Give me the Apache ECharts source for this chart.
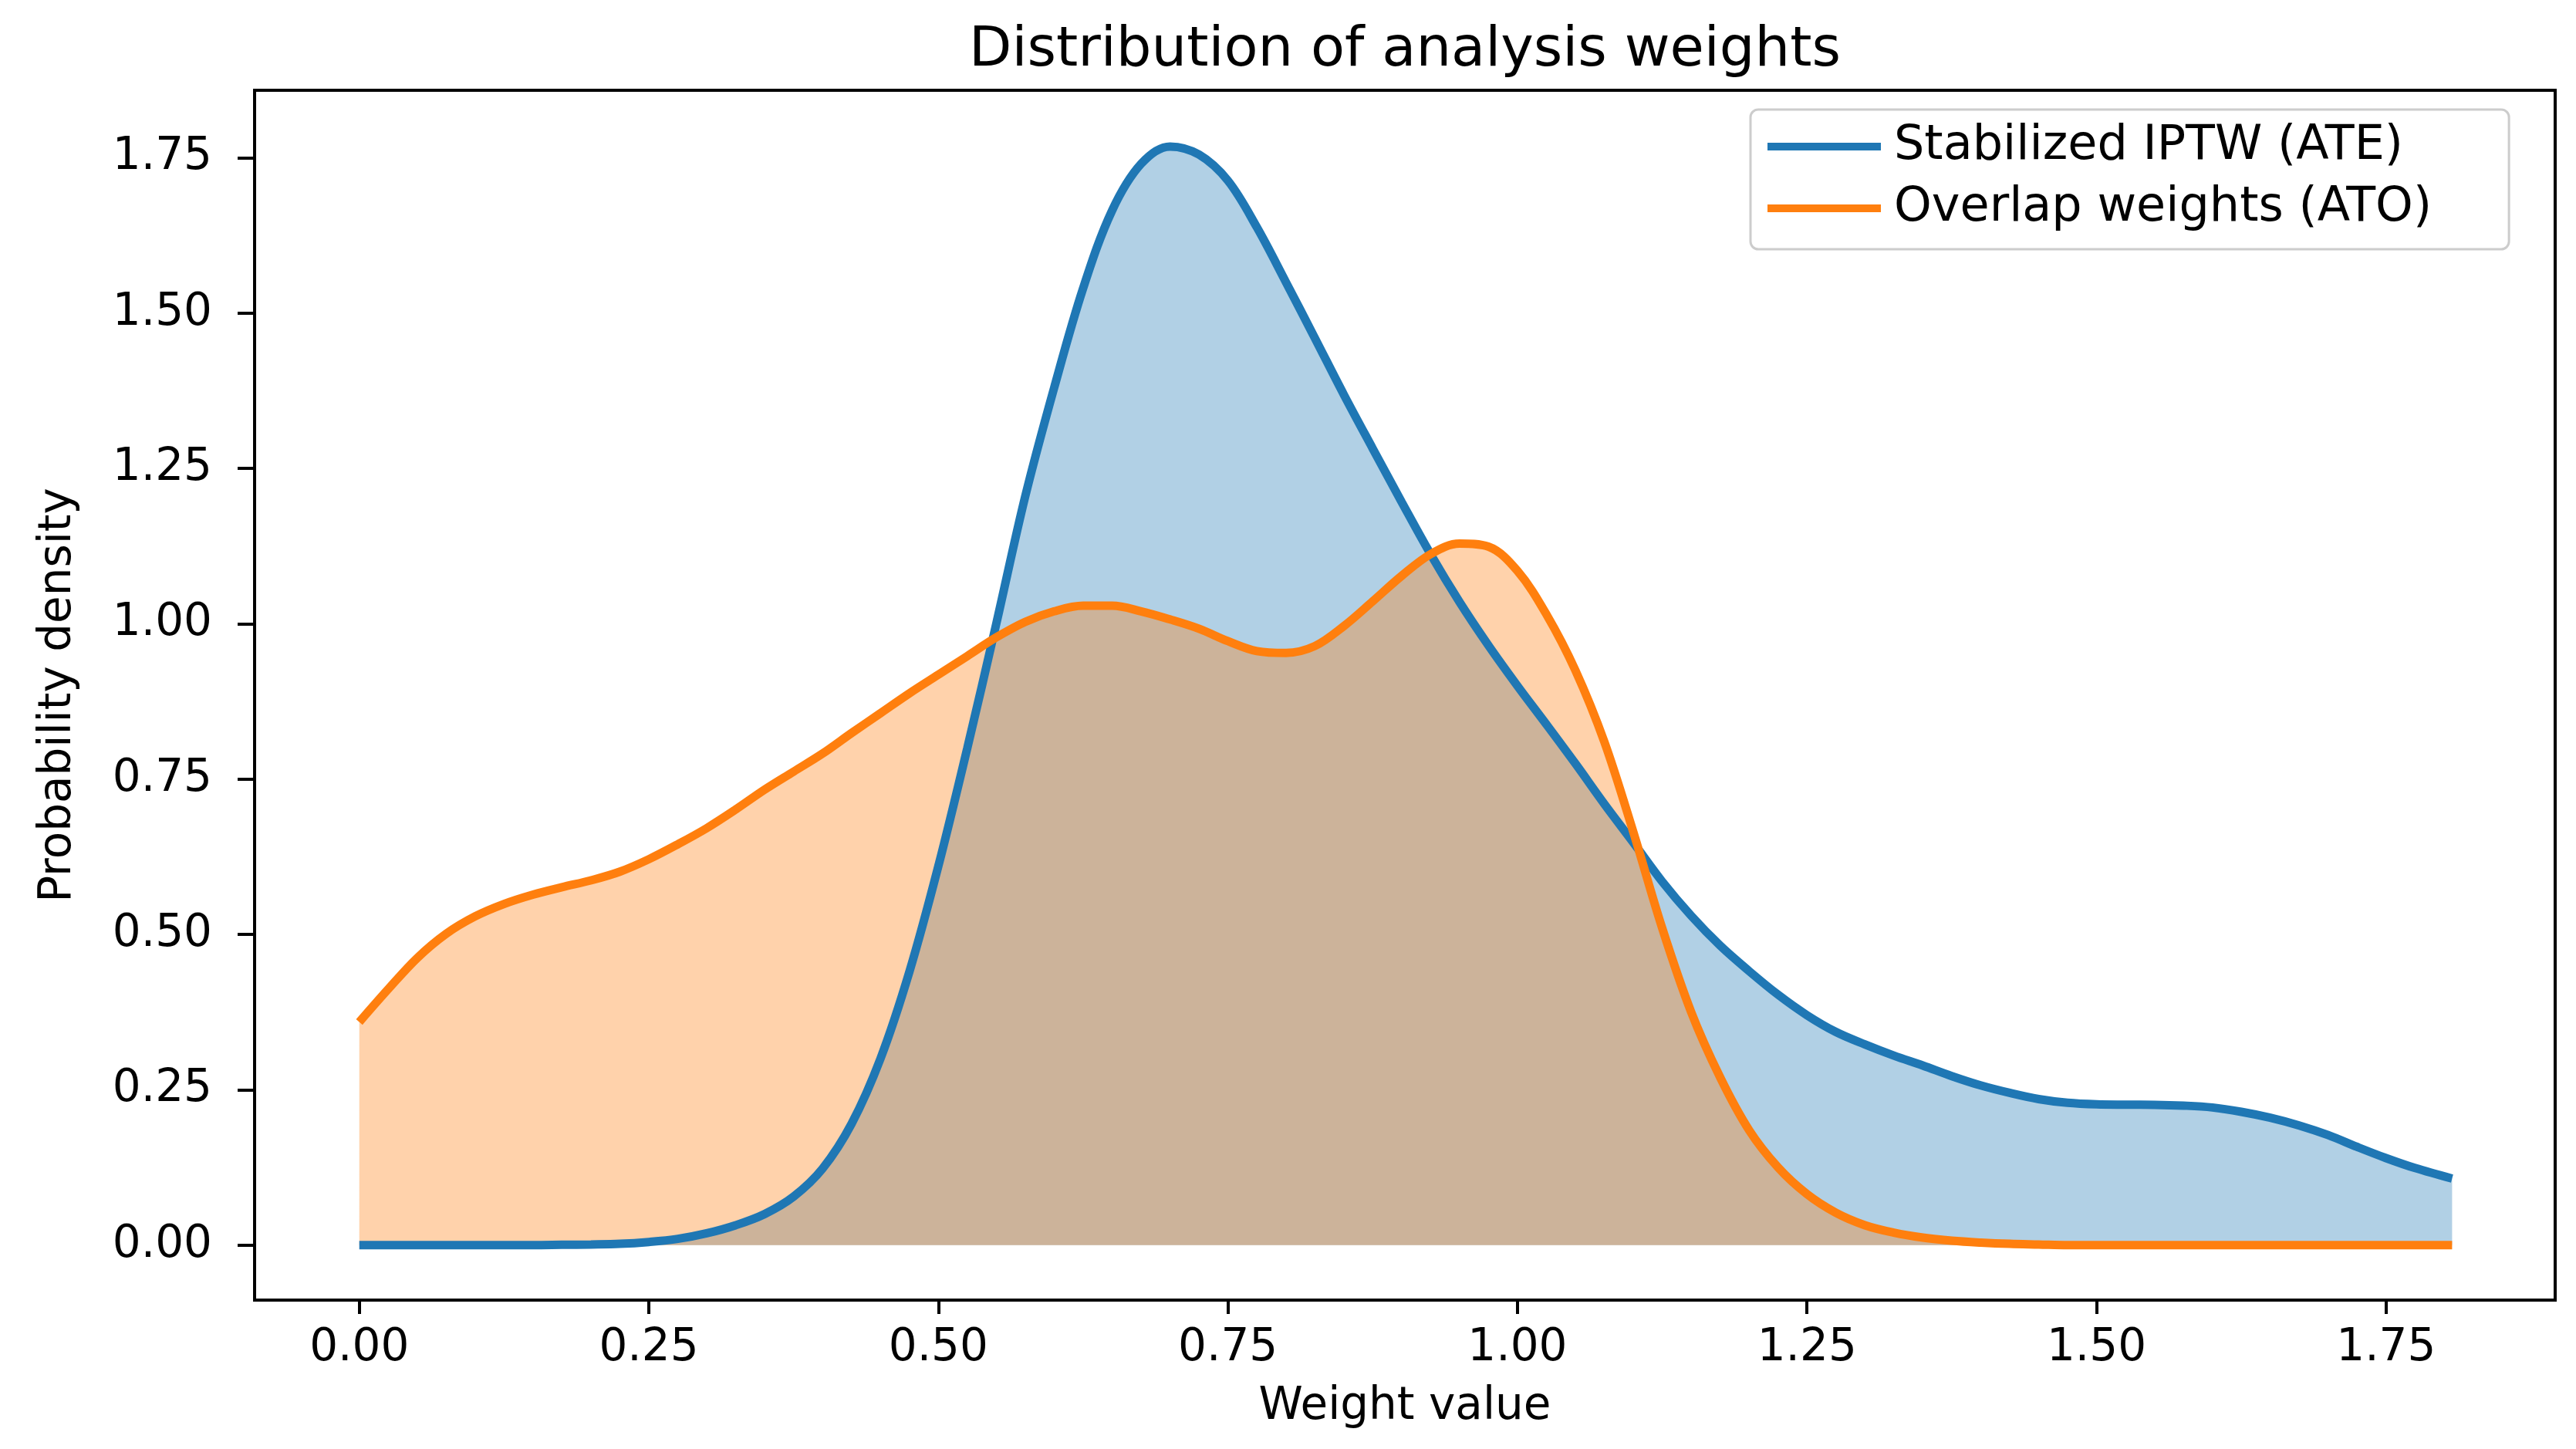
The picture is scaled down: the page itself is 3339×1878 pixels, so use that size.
<!DOCTYPE html>
<html lang="en">
<head>
<meta charset="UTF-8" />
<title>Distribution of analysis weights</title>
<script src="https://cdn.jsdelivr.net/npm/echarts@6.0.0/dist/echarts.min.js"></script>
<style>
  html, body { margin: 0; padding: 0; background: #fff; }
  #chart { width: 3339px; height: 1878px; }
</style>
</head>
<body>
<div id="chart"></div>
<script>
var weightGrid = [0, 0.025, 0.05, 0.075, 0.1, 0.125, 0.15, 0.175, 0.2, 0.225, 0.25, 0.275,
  0.3, 0.325, 0.35, 0.375, 0.4, 0.425, 0.45, 0.475, 0.5, 0.525, 0.55, 0.575,
  0.6, 0.625, 0.65, 0.675, 0.7, 0.725, 0.75, 0.775, 0.8, 0.825, 0.85, 0.875,
  0.9, 0.925, 0.95, 0.975, 1.0, 1.025, 1.05, 1.075, 1.1, 1.125, 1.15, 1.175,
  1.2, 1.225, 1.25, 1.275, 1.3, 1.325, 1.35, 1.375, 1.4, 1.425, 1.45, 1.475,
  1.5, 1.525, 1.55, 1.575, 1.6, 1.625, 1.65, 1.675, 1.7, 1.725, 1.75, 1.775, 1.807];

// Stabilized IPTW (ATE) density
var iptwDensity = [0, 0, 0, 0, 0, 0, 0, 0.0005, 0.001, 0.002, 0.005, 0.01,
  0.019, 0.032, 0.05, 0.078, 0.123, 0.195, 0.30, 0.44, 0.61, 0.80, 1.0, 1.205,
  1.38, 1.54, 1.665, 1.74, 1.768, 1.755, 1.713, 1.638, 1.55, 1.46, 1.369, 1.282,
  1.196, 1.112, 1.035, 0.965, 0.90, 0.838, 0.775, 0.71, 0.648, 0.585, 0.53, 0.482,
  0.441, 0.403, 0.37, 0.343, 0.323, 0.305, 0.289, 0.272, 0.257, 0.245, 0.235, 0.229,
  0.2265, 0.226, 0.2258, 0.2245, 0.2215, 0.2145, 0.205, 0.1925, 0.177, 0.158, 0.14, 0.124, 0.107];

// Overlap weights (ATO) density
var atoDensity = [0.359, 0.412, 0.462, 0.501, 0.529, 0.549, 0.564, 0.576, 0.587, 0.601, 0.621, 0.645,
  0.671, 0.701, 0.733, 0.762, 0.791, 0.824, 0.856, 0.888, 0.918, 0.948, 0.978, 1.003,
  1.02, 1.029, 1.029, 1.02, 1.007, 0.992, 0.972, 0.956, 0.953, 0.964, 0.996, 1.036,
  1.077, 1.112, 1.129, 1.124, 1.085, 1.015, 0.925, 0.81, 0.665, 0.51, 0.375, 0.27,
  0.185, 0.125, 0.082, 0.052, 0.032, 0.02, 0.012, 0.007, 0.004, 0.002, 0.001, 0,
  0, 0, 0, 0, 0, 0, 0, 0, 0, 0, 0, 0, 0];

var seriesNames = ['Stabilized IPTW (ATE)', 'Overlap weights (ATO)'];
var xTicks = [0, 0.25, 0.5, 0.75, 1.0, 1.25, 1.5, 1.75];
var yTicks = [0, 0.25, 0.5, 0.75, 1.0, 1.25, 1.5, 1.75];

function pairs(ys) {
  return weightGrid.map(function (x, i) { return [x, ys[i]]; });
}

var blue = '#1f77b4';
var orange = '#ff7f0e';
var font = 'DejaVu Sans';

var myChart = echarts.init(document.getElementById('chart'));

var option = {
  animation: false,
  backgroundColor: '#ffffff',
  title: {
    text: 'Distribution of analysis weights',
    left: 1821,
    textAlign: 'center',
    top: 30,
    padding: 0,
    textStyle: { fontFamily: font, fontSize: 72, fontWeight: 'normal', color: '#000' }
  },
  legend: {
    orient: 'vertical',
    left: 2269,
    top: 142,
    padding: [17, 100, 22, 22],
    itemWidth: 147,
    itemHeight: 10,
    itemGap: 18,
    icon: 'rect',
    backgroundColor: 'rgba(255,255,255,0.8)',
    borderColor: '#cccccc',
    borderWidth: 3,
    borderRadius: 10,
    textStyle: { fontFamily: font, fontSize: 62, lineHeight: 62, color: '#000', padding: [0, 0, 0, 12] },
    data: seriesNames
  },
  grid: {
    left: 330,
    right: 27,
    top: 117,
    bottom: 193,
    show: true,
    borderColor: '#000',
    borderWidth: 4,
    containLabel: false,
    outerBoundsMode: 'none'
  },
  xAxis: {
    type: 'value',
    min: -0.0904,
    max: 1.896,
    name: 'Weight value',
    nameLocation: 'middle',
    nameGap: 110,
    nameTextStyle: { fontFamily: font, fontSize: 58, color: '#000' },
    axisLine: { show: true, onZero: false, lineStyle: { color: '#000', width: 4 } },
    axisTick: { show: true, length: 18, customValues: xTicks, lineStyle: { color: '#000', width: 4 } },
    axisLabel: {
      customValues: xTicks,
      margin: 34,
      fontFamily: font,
      fontSize: 58,
      color: '#000',
      formatter: function (v) { return v.toFixed(2); }
    },
    splitLine: { show: false }
  },
  yAxis: {
    type: 'value',
    min: -0.0885,
    max: 1.8585,
    name: 'Probability density',
    nameLocation: 'middle',
    nameRotate: 90,
    nameGap: 225,
    nameTextStyle: { fontFamily: font, fontSize: 58, color: '#000' },
    axisLine: { show: true, onZero: false, lineStyle: { color: '#000', width: 4 } },
    axisTick: { show: true, length: 22, customValues: yTicks, lineStyle: { color: '#000', width: 4 } },
    axisLabel: {
      customValues: yTicks,
      margin: 55,
      fontFamily: font,
      fontSize: 58,
      color: '#000',
      formatter: function (v) { return v.toFixed(2); }
    },
    splitLine: { show: false }
  },
  series: [
    {
      // curve lines drawn above both filled areas
      name: seriesNames[0],
      type: 'line',
      data: pairs(iptwDensity),
      smooth: 0.35,
      symbol: 'none',
      z: 3,
      itemStyle: { color: blue },
      lineStyle: { color: blue, width: 11 }
    },
    {
      name: seriesNames[1],
      type: 'line',
      data: pairs(atoDensity),
      smooth: 0.35,
      symbol: 'none',
      z: 4,
      itemStyle: { color: orange },
      lineStyle: { color: orange, width: 11 }
    },
    {
      name: seriesNames[0],
      type: 'line',
      data: pairs(iptwDensity),
      smooth: 0.35,
      symbol: 'none',
      z: 1,
      itemStyle: { color: blue },
      lineStyle: { width: 0, opacity: 0 },
      areaStyle: { color: 'rgba(31,119,180,0.35)', opacity: 1 }
    },
    {
      name: seriesNames[1],
      type: 'line',
      data: pairs(atoDensity),
      smooth: 0.35,
      symbol: 'none',
      z: 2,
      itemStyle: { color: orange },
      lineStyle: { width: 0, opacity: 0 },
      areaStyle: { color: 'rgba(255,127,14,0.35)', opacity: 1 }
    }
  ]
};

myChart.setOption(option);
</script>
</body>
</html>
